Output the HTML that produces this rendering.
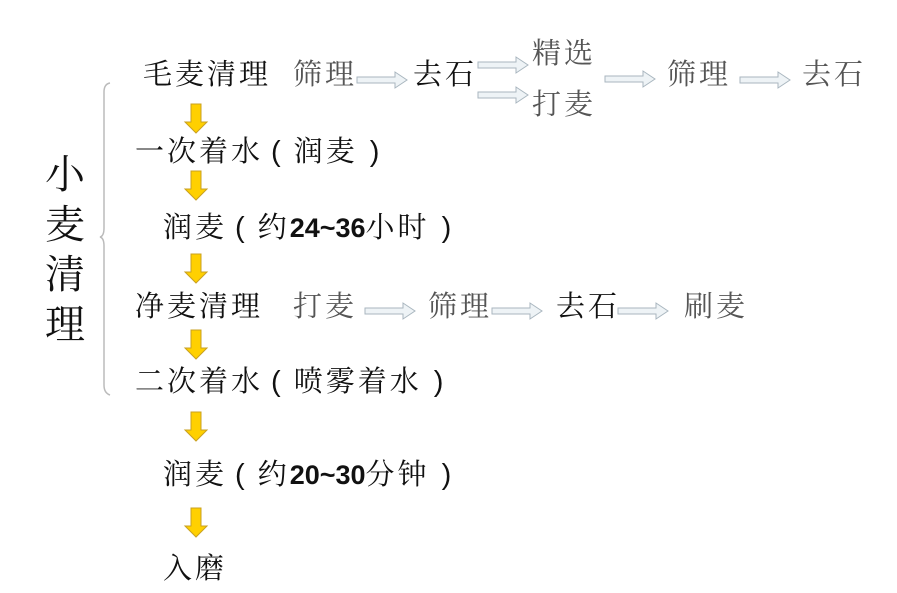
<!DOCTYPE html>
<html><head><meta charset="utf-8"><style>
body{margin:0;width:897px;height:593px;background:#fff;position:relative;overflow:hidden;font-family:"Liberation Serif","Noto Serif CJK SC","Noto Sans CJK SC",serif;}
.t{position:absolute;font-size:29px;line-height:32px;white-space:nowrap;color:#111;letter-spacing:3px;}
.g{color:#555;}
.v{position:absolute;left:45px;font-size:40px;line-height:44px;color:#111;}
b{font-family:"Liberation Sans",sans-serif;font-weight:bold;font-size:27px;letter-spacing:0;}
.p{font-family:"Liberation Sans",sans-serif;display:inline-block;margin:0 10px 0 8px;}
.q{font-family:"Liberation Sans",sans-serif;display:inline-block;margin:0 0 0 12px;}
svg{position:absolute;left:0;top:0;}
</style></head><body>
<svg width="897" height="593">
<defs>
<g id="ya"><path d="M-5,0 h10 v18 h6 l-11,11 l-11,-11 h6 z" fill="#ffd000" stroke="#c9a020" stroke-width="1"/></g>
<g id="ha"><path d="M0,-3 h38 v-5 l12,8 l-12,8 v-5 h-38 z" fill="#eef3f6" stroke="#a9b6bf" stroke-width="1"/></g>
</defs>
<use href="#ya" x="196" y="104"/>
<use href="#ya" x="196" y="171"/>
<use href="#ya" x="196" y="254"/>
<use href="#ya" x="196" y="330"/>
<use href="#ya" x="196" y="412"/>
<use href="#ya" x="196" y="508"/>
<use href="#ha" x="357" y="80"/>
<use href="#ha" x="478" y="65"/>
<use href="#ha" x="478" y="95"/>
<use href="#ha" x="605" y="79"/>
<use href="#ha" x="740" y="80"/>
<use href="#ha" x="365" y="311"/>
<use href="#ha" x="492" y="311"/>
<use href="#ha" x="618" y="311"/>
<path d="M110,83 Q104,84 104,92 L104,228 Q104,236 100,237 Q104,238 104,246 L104,385 Q104,393 110,395" fill="none" stroke="#bbb" stroke-width="1.5"/>
</svg>
<div class="v" style="top:153px">小</div>
<div class="v" style="top:203px">麦</div>
<div class="v" style="top:253px">清</div>
<div class="v" style="top:303px">理</div>
<div class="t" style="left:143px;top:59px">毛麦清理</div>
<div class="t g" style="left:293px;top:59px">筛理</div>
<div class="t" style="left:413px;top:59px">去石</div>
<div class="t g" style="left:532px;top:38px">精选</div>
<div class="t g" style="left:532px;top:89px">打麦</div>
<div class="t g" style="left:667px;top:59px">筛理</div>
<div class="t g" style="left:802px;top:59px">去石</div>
<div class="t" style="left:135px;top:136px">一次着水<span class="p">(</span>润麦<span class="q">)</span></div>
<div class="t" style="left:163px;top:212px">润麦<span class="p">(</span>约<b>24~36</b>小时<span class="q">)</span></div>
<div class="t" style="left:135px;top:291px">净麦清理</div>
<div class="t g" style="left:293px;top:291px">打麦</div>
<div class="t g" style="left:428px;top:291px">筛理</div>
<div class="t" style="left:556px;top:291px">去石</div>
<div class="t g" style="left:684px;top:291px">刷麦</div>
<div class="t" style="left:135px;top:366px">二次着水<span class="p">(</span>喷雾着水<span class="q">)</span></div>
<div class="t" style="left:163px;top:459px">润麦<span class="p">(</span>约<b>20~30</b>分钟<span class="q">)</span></div>
<div class="t" style="left:163px;top:553px">入磨</div>
</body></html>
